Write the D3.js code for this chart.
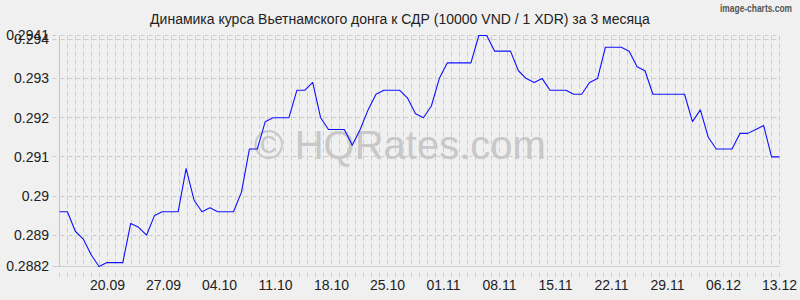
<!DOCTYPE html>
<html>
<head>
<meta charset="utf-8">
<script src="https://cdn.jsdelivr.net/npm/d3@7"></script>
<style>
  html, body { margin: 0; padding: 0; background: #f0f0f0; }
  svg { display: block; font-family: "Liberation Sans", Arial, sans-serif; }
</style>
</head>
<body>
<svg id="svg" width="800" height="300"></svg>
<script>
// курс VND/XDR, 92 точки: 13.09 ... 13.12
const rates = [
  0.2896, 0.2896, 0.2891, 0.2889, 0.2885, 0.2882, 0.2883, 0.2883, 0.2883, 0.2893,
  0.2892, 0.2890, 0.2895, 0.2896, 0.2896, 0.2896, 0.2907, 0.2899, 0.2896, 0.2897,
  0.2896, 0.2896, 0.2896, 0.2901, 0.2912, 0.2912, 0.2919, 0.2920, 0.2920, 0.2920,
  0.2927, 0.2927, 0.2929, 0.2920, 0.2917, 0.2917, 0.2917, 0.2913, 0.2917, 0.2922,
  0.2926, 0.2927, 0.2927, 0.2927, 0.2925, 0.2921, 0.2920, 0.2923, 0.2930, 0.2934,
  0.2934, 0.2934, 0.2934, 0.2941, 0.2941, 0.2937, 0.2937, 0.2937, 0.2932, 0.2930,
  0.2929, 0.2930, 0.2927, 0.2927, 0.2927, 0.2926, 0.2926, 0.2929, 0.2930, 0.2938,
  0.2938, 0.2938, 0.2937, 0.2933, 0.2932, 0.2926, 0.2926, 0.2926, 0.2926, 0.2926,
  0.2919, 0.2922, 0.2915, 0.2912, 0.2912, 0.2912, 0.2916, 0.2916, 0.2917, 0.2918,
  0.2910, 0.2910
];

const yTicks = [0.2882, 0.289, 0.29, 0.291, 0.292, 0.293, 0.294, 0.2941];
const yTickLabels = ['0.2882', '0.289', '0.29', '0.291', '0.292', '0.293', '0.294', '0.2941'];

const xTickLabels = ['20.09', '27.09', '04.10', '11.10', '18.10', '25.10', '01.11',
  '08.11', '15.11', '22.11', '29.11', '06.12', '13.12'];
const xTickYears = ['2023', '2023', '2023', '2023', '2023', '2023', '2023',
  '2023', '2023', '2023', '2023', '2023', '2023'];
const axisStart = '14.09.2023';

const title = 'Динамика курса Вьетнамского донга к СДР (10000 VND / 1 XDR) за 3 месяца';

const plot = {left: 59.5, right: 779.5, top: 35.5, bottom: 266.5};
const gridColor = '#cdcdcd';

const parse = d3.utcParse('%d.%m.%Y');
const tickDates = xTickLabels.map((d, i) => parse(d + '.' + xTickYears[i]));

// ось дат (сетка по дням) и отдельная шкала по номеру точки для линии
const xTime = d3.scaleUtc()
  .domain([parse(axisStart), tickDates[tickDates.length - 1]])
  .range([plot.left, plot.right]);

const xIndex = d3.scaleLinear()
  .domain([0, rates.length - 1])
  .range([plot.left, plot.right]);

const yScale = d3.scaleLinear()
  .domain([d3.min(yTicks), d3.max(yTicks)])
  .range([plot.bottom, plot.top]);

const svg = d3.select('#svg');

svg.append('rect')
  .attr('width', 800)
  .attr('height', 300)
  .attr('fill', '#f0f0f0');

// вертикальная сетка - каждый день
const days = d3.utcDay.range(xTime.domain()[0], d3.utcDay.offset(xTime.domain()[1], 1));

svg.append('g')
  .selectAll('line')
  .data(days)
  .enter()
  .append('line')
  .attr('x1', d => Math.round(xTime(d) - 0.5) + 0.5)
  .attr('x2', d => Math.round(xTime(d) - 0.5) + 0.5)
  .attr('y1', plot.top)
  .attr('y2', plot.bottom)
  .attr('stroke', gridColor)
  .attr('stroke-dasharray', '5,3');

svg.append('g')
  .selectAll('line')
  .data(days)
  .enter()
  .append('line')
  .attr('x1', d => Math.round(xTime(d) - 0.5) + 0.5)
  .attr('x2', d => Math.round(xTime(d) - 0.5) + 0.5)
  .attr('y1', plot.bottom + 6)
  .attr('y2', plot.bottom + 10)
  .attr('stroke', gridColor);

// горизонтальная сетка
svg.append('g')
  .selectAll('line')
  .data(yTicks)
  .enter()
  .append('line')
  .attr('x1', plot.left - 7)
  .attr('x2', plot.right)
  .attr('y1', d => Math.round(yScale(d) - 0.5) + 0.5)
  .attr('y2', d => Math.round(yScale(d) - 0.5) + 0.5)
  .attr('stroke', gridColor)
  .attr('stroke-dasharray', d => (d === yTicks[0] ? null : '4,4'));

svg.append('line')
  .attr('x1', plot.left)
  .attr('x2', plot.left)
  .attr('y1', plot.top)
  .attr('y2', plot.bottom)
  .attr('stroke', '#c4c4c4');

// подписи оси Y (0.294 и 0.2941 в оригинале наезжают друг на друга)
svg.append('g')
  .selectAll('text')
  .data(yTicks)
  .enter()
  .append('text')
  .attr('x', 49)
  .attr('y', d => yScale(d))
  .attr('dy', '0.35em')
  .attr('text-anchor', 'end')
  .attr('font-size', 14)
  .attr('fill', '#222')
  .text((d, i) => yTickLabels[i]);

// подписи оси X
svg.append('g')
  .selectAll('text')
  .data(tickDates)
  .enter()
  .append('text')
  .attr('x', d => xTime(d))
  .attr('y', 290)
  .attr('text-anchor', 'middle')
  .attr('font-size', 14)
  .attr('fill', '#222')
  .text((d, i) => xTickLabels[i]);

// водяной знак
svg.append('text')
  .attr('x', 400)
  .attr('y', 159)
  .attr('text-anchor', 'middle')
  .attr('font-size', 40)
  .attr('fill', '#c8c8c8')
  .text('© HQRates.com');

const line = d3.line()
  .x((d, i) => xIndex(i))
  .y(d => yScale(d));

svg.append('path')
  .datum(rates)
  .attr('d', line)
  .attr('fill', 'none')
  .attr('stroke', '#1010ff')
  .attr('stroke-width', 1.1)
  .attr('stroke-linejoin', 'round');

svg.append('text')
  .attr('x', 400)
  .attr('y', 24)
  .attr('text-anchor', 'middle')
  .attr('font-size', 14)
  .attr('fill', '#222')
  .text(title);

svg.append('text')
  .attr('x', 792)
  .attr('y', 12)
  .attr('text-anchor', 'end')
  .attr('font-size', 10)
  .attr('font-weight', 'bold')
  .attr('fill', '#555')
  .attr('textLength', 72)
  .attr('lengthAdjust', 'spacingAndGlyphs')
  .text('image-charts.com');
</script>
</body>
</html>
